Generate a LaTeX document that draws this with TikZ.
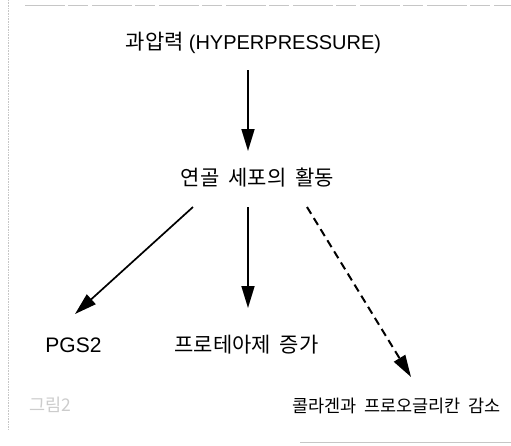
\documentclass[tikz,border=0pt]{standalone}
\usepackage{fontspec}
\setmainfont{Liberation Sans}
\newfontfamily\kr[WordSpace=1.9]{Noto Sans CJK KR}
\usetikzlibrary{arrows.meta}
\begin{document}
\begin{tikzpicture}[x=1pt,y=-1pt,
  lbl/.style={inner sep=0pt, font=\kr\fontsize{21}{24}\selectfont},
  lblsmall/.style={inner sep=0pt, font=\kr\fontsize{17.5}{20}\selectfont},
  arr/.style={line width=1.7pt, -{Triangle[length=22pt,width=13pt]}},
  darr/.style={arr, line width=2pt, dash pattern=on 8pt off 5pt},
  scan/.style={gray!45, line width=0.6pt}]
\useasboundingbox (0,0) rectangle (511,445);
% scan border remnants
\draw[scan, dash pattern=on 40pt off 3pt on 20pt off 4pt] (25,5) -- (511,5);
\draw[scan, densely dotted] (8,0) -- (8,430);
\draw[scan] (300,442) -- (511,442);
% nodes
\node[inner sep=0pt] (top) at (253.5,43) {{\kr\fontsize{21}{24}\selectfont 과압력}\hspace{5pt}{\fontsize{20}{24}\selectfont (HYPERPRESSURE)}};
\node[lbl] (mid) at (257.5,178) {연골 세포의 활동};
\node[inner sep=0pt, font=\fontsize{21}{24}\selectfont] (pgs) at (73.5,345) {PGS2};
\node[lbl] (prot) at (246.5,345) {프로테아제 증가};
\node[lblsmall] (col) at (396.5,406) {콜라겐과 프로오글리칸 감소};
\node[lblsmall, text=gray!40] (fig) at (50,405) {그림2};
% arrow endpoints
\coordinate (a1s) at (248,70);
\coordinate (a1e) at (248,151);
\coordinate (a2s) at (193,207);
\coordinate (a2e) at (75,314);
\coordinate (a3s) at (248,207);
\coordinate (a3e) at (248,308);
\coordinate (a4s) at (307,207);
\coordinate (a4e) at (411,377);
% connectors
\draw[arr] (a1s) -- (a1e);
\draw[arr] (a2s) -- (a2e);
\draw[arr] (a3s) -- (a3e);
\draw[darr] (a4s) -- (a4e);
\end{tikzpicture}
\end{document}
